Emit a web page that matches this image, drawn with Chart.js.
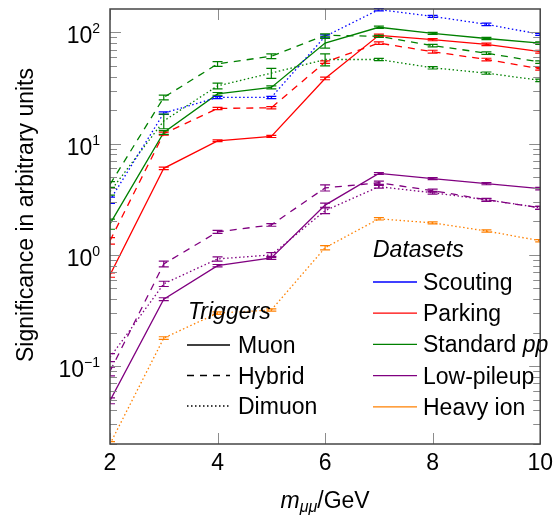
<!DOCTYPE html>
<html>
<head>
<meta charset="utf-8">
<script src="https://cdn.jsdelivr.net/npm/chart.js@4.4.1/dist/chart.umd.min.js"></script>
<style>
  html, body { margin: 0; padding: 0; background: #fff; }
  #wrap { width: 559px; height: 515px; }
</style>
</head>
<body>
<div id="wrap"><canvas id="chart" width="559" height="515"></canvas></div>
<script>
// dimuon mass points (GeV)
const masses = [2, 3, 4, 5, 6, 7, 8, 9, 10];

// significance
const scoutingDimuon = [3.1, 18.8, 26, 26, 92, 160, 139, 118, 96];
const parkingMuon = [0.66, 6.0, 10.6, 11.6, 38.5, 94, 86, 78, 67];
const parkingHybrid = [1.34, 12.3, 20.7, 21, 54, 80, 67, 57, 47];
const standardMuon = [1.9, 12.6, 28, 32, 80, 111, 98, 88, 80];
const standardHybrid = [4.3, 26, 52, 61, 94, 92, 76, 65, 54];
const standardDimuon = [3.7, 16, 33, 43, 57, 57, 48, 43, 37];
const lowpuMuon = [0.049, 0.40, 0.80, 0.94, 2.8, 5.4, 4.85, 4.37, 3.94];
const lowpuHybrid = [0.09, 0.83, 1.61, 1.86, 4.0, 4.45, 3.78, 3.13, 2.65];
const lowpuDimuon = [0.12, 0.55, 0.92, 1.0, 2.5, 4.1, 3.62, 3.13, 2.65];
const heavyIonDimuon = [0.02, 0.179, 0.30, 0.32, 1.16, 2.11, 1.94, 1.64, 1.34];

// error bar half heights
const scoutingDimuonErr = [0.2, 0.5, 0.6, 0.6, 3, 4, 3, 3, 2];
const parkingMuonErr = [0.03, 0.15, 0.2, 0.25, 1, 2.5, 2, 2, 2];
const parkingHybridErr = [0.09, 0.4, 0.5, 0.5, 1.5, 2, 2, 1.5, 1.2];
const standardMuonErr = [0.2, 0.5, 0.8, 1, 8, 2.5, 2, 2, 2];
const standardHybridErr = [0.25, 1.3, 2.6, 3, 3, 2, 2, 1.6, 1.5];
const standardDimuonErr = [0.25, 2.4, 2, 4.5, 7, 1.4, 1.2, 1, 1];
const lowpuMuonErr = [0.003, 0.012, 0.02, 0.03, 0.12, 0.1, 0.1, 0.1, 0.1];
const lowpuHybridErr = [0.008, 0.05, 0.05, 0.05, 0.25, 0.15, 0.12, 0.1, 0.08];
const lowpuDimuonErr = [0.01, 0.03, 0.04, 0.05, 0.15, 0.12, 0.1, 0.08, 0.08];
const heavyIonDimuonErr = [0.001, 0.005, 0.008, 0.008, 0.05, 0.05, 0.04, 0.04, 0.03];

// axis ticks
const xTicks = [2, 4, 6, 8, 10];
const yDecades = [-1, 0, 1, 2];

// legend texts
const triggerNames = ['Muon', 'Hybrid', 'Dimuon'];
const datasetNames = ['Scouting', 'Parking', 'Standard pp', 'Low-pileup', 'Heavy ion'];

const FONT = '"Liberation Sans", Arial, sans-serif';
const datasetColors = {
  'Scouting': 'rgb(0,0,255)',
  'Parking': 'rgb(255,0,0)',
  'Standard pp': 'rgb(0,128,0)',
  'Low-pileup': 'rgb(128,0,128)',
  'Heavy ion': 'rgb(255,128,0)'
};
const triggerDash = { Muon: [], Hybrid: [7, 6], Dimuon: [1.5, 2.5] };

const series = [
  { name: 'Scouting', trigger: 'Dimuon', values: scoutingDimuon, err: scoutingDimuonErr },
  { name: 'Parking', trigger: 'Muon', values: parkingMuon, err: parkingMuonErr },
  { name: 'Parking', trigger: 'Hybrid', values: parkingHybrid, err: parkingHybridErr },
  { name: 'Standard pp', trigger: 'Muon', values: standardMuon, err: standardMuonErr },
  { name: 'Standard pp', trigger: 'Hybrid', values: standardHybrid, err: standardHybridErr },
  { name: 'Standard pp', trigger: 'Dimuon', values: standardDimuon, err: standardDimuonErr },
  { name: 'Low-pileup', trigger: 'Muon', values: lowpuMuon, err: lowpuMuonErr },
  { name: 'Low-pileup', trigger: 'Hybrid', values: lowpuHybrid, err: lowpuHybridErr },
  { name: 'Low-pileup', trigger: 'Dimuon', values: lowpuDimuon, err: lowpuDimuonErr },
  { name: 'Heavy ion', trigger: 'Dimuon', values: heavyIonDimuon, err: heavyIonDimuonErr }
];

// error bars with small caps
const errorBars = {
  id: 'errorBars',
  afterDatasetsDraw(chart) {
    const { ctx, chartArea: a, scales: { y } } = chart;
    ctx.save();
    ctx.beginPath();
    ctx.rect(a.left, a.top - 1, a.right - a.left, a.bottom - a.top + 2);
    ctx.clip();
    chart.data.datasets.forEach((ds, i) => {
      const meta = chart.getDatasetMeta(i);
      ctx.strokeStyle = ds.borderColor;
      ctx.lineWidth = 1.2;
      ctx.setLineDash([]);
      meta.data.forEach((pt, j) => {
        const v = ds.data[j].y, e = ds.errors[j];
        const y1 = y.getPixelForValue(v + e);
        const y0 = y.getPixelForValue(Math.max(v - e, 1e-4));
        ctx.beginPath();
        ctx.moveTo(pt.x, y0); ctx.lineTo(pt.x, y1);
        ctx.moveTo(pt.x - 5, y0); ctx.lineTo(pt.x + 5, y0);
        ctx.moveTo(pt.x - 5, y1); ctx.lineTo(pt.x + 5, y1);
        ctx.stroke();
      });
    });
    ctx.restore();
  }
};

// frame, inner ticks, log labels, axis titles and the two legends
const decorations = {
  id: 'decorations',
  afterDraw(chart) {
    const { ctx, chartArea: a, scales: { x, y } } = chart;
    ctx.save();
    // ticks
    ctx.strokeStyle = 'rgb(140,140,140)';
    ctx.lineWidth = 1;
    ctx.beginPath();
    xTicks.forEach(v => {
      const px = Math.round(x.getPixelForValue(v)) + 0.5;
      ctx.moveTo(px, a.bottom); ctx.lineTo(px, a.bottom - 11);
      ctx.moveTo(px, a.top); ctx.lineTo(px, a.top + 11);
    });
    for (let d = -2; d <= 2; d++) {
      for (let k = 1; k <= 9; k++) {
        const v = k * Math.pow(10, d);
        if (v < y.min || v > y.max) continue;
        const py = Math.round(y.getPixelForValue(v)) + 0.5;
        const len = k === 1 ? 11 : 7;
        ctx.moveTo(a.left, py); ctx.lineTo(a.left + len, py);
        ctx.moveTo(a.right, py); ctx.lineTo(a.right - len, py);
      }
    }
    ctx.stroke();
    // frame
    ctx.strokeStyle = 'rgb(70,70,70)';
    ctx.lineWidth = 1.5;
    ctx.strokeRect(a.left, a.top, a.right - a.left, a.bottom - a.top);

    ctx.fillStyle = '#000';
    // y labels 10^n
    yDecades.forEach(d => {
      const py = y.getPixelForValue(Math.pow(10, d));
      const exp = d < 0 ? '\u2212' + (-d) : String(d);
      ctx.font = '14px ' + FONT;
      const we = ctx.measureText(exp).width;
      ctx.font = '23px ' + FONT;
      const wm = ctx.measureText('10').width;
      const xr = a.left - 10;
      ctx.textBaseline = 'alphabetic';
      ctx.textAlign = 'left';
      ctx.fillText('10', xr - we - wm, py + 11);
      ctx.font = '14px ' + FONT;
      ctx.fillText(exp, xr - we, py + 1);
    });

    // y title
    ctx.save();
    ctx.translate(33, 215);
    ctx.rotate(-Math.PI / 2);
    ctx.font = '23px ' + FONT;
    ctx.textAlign = 'center';
    ctx.fillText('Significance in arbitrary units', 0, 0);
    ctx.restore();

    // x title  m_{mu mu}/GeV
    const parts = [
      { t: 'm', f: 'italic 23px ' + FONT, dy: 0 },
      { t: '\u03bc\u03bc', f: 'italic 16px ' + FONT, dy: 4 },
      { t: '/GeV', f: '23px ' + FONT, dy: 0 }
    ];
    let total = 0;
    parts.forEach(p => { ctx.font = p.f; p.w = ctx.measureText(p.t).width; total += p.w; });
    let cx = (a.left + a.right) / 2 - total / 2;
    parts.forEach(p => { ctx.font = p.f; ctx.fillText(p.t, cx, 508 + p.dy); cx += p.w; });

    // Triggers legend
    ctx.font = 'italic 23px ' + FONT;
    ctx.fillText('Triggers', 188, 319);
    triggerNames.forEach((n, i) => {
      const ly = 345 + i * 30.5;
      ctx.strokeStyle = '#000';
      ctx.lineWidth = 1.3;
      ctx.setLineDash(triggerDash[n]);
      ctx.beginPath(); ctx.moveTo(187, ly); ctx.lineTo(230, ly); ctx.stroke();
      ctx.setLineDash([]);
      ctx.font = '23px ' + FONT;
      ctx.fillText(n, 238, ly + 8);
    });

    // Datasets legend
    ctx.font = 'italic 23px ' + FONT;
    ctx.fillText('Datasets', 373, 257);
    datasetNames.forEach((n, i) => {
      const ly = 282 + i * 31.2;
      ctx.strokeStyle = datasetColors[n];
      ctx.lineWidth = 1.3;
      ctx.beginPath(); ctx.moveTo(373, ly); ctx.lineTo(417, ly); ctx.stroke();
      ctx.font = '23px ' + FONT;
      if (n === 'Standard pp') {
        ctx.fillText('Standard ', 423, ly + 8);
        const w = ctx.measureText('Standard ').width;
        ctx.font = 'italic 23px ' + FONT;
        ctx.fillText('pp', 423 + w, ly + 8);
      } else {
        ctx.fillText(n, 423, ly + 8);
      }
    });
    ctx.restore();
  }
};

new Chart(document.getElementById('chart'), {
  type: 'line',
  data: {
    datasets: series.map(s => ({
      label: s.name + ' ' + s.trigger,
      data: masses.map((m, i) => ({ x: m, y: s.values[i] })),
      errors: s.err,
      borderColor: datasetColors[s.name],
      borderDash: triggerDash[s.trigger],
      borderWidth: 1.3,
      pointRadius: 0,
      tension: 0,
      fill: false
    }))
  },
  options: {
    responsive: false,
    animation: false,
    devicePixelRatio: 1,
    layout: { padding: { top: 9, right: 13, left: 0, bottom: 0 } },
    plugins: { legend: { display: false }, tooltip: { enabled: false } },
    scales: {
      x: {
        type: 'linear',
        min: 2,
        max: 10,
        afterBuildTicks: s => { s.ticks = xTicks.map(v => ({ value: v })); },
        ticks: { color: '#000', font: { family: FONT, size: 23 }, padding: 6, maxRotation: 0 },
        grid: { display: false, drawTicks: false },
        border: { display: false },
        afterFit: s => { s.height = 71; }
      },
      y: {
        type: 'logarithmic',
        min: 0.02,
        max: 162,
        ticks: { display: false },
        grid: { display: false, drawTicks: false },
        border: { display: false },
        afterFit: s => { s.width = 110; }
      }
    }
  },
  plugins: [errorBars, decorations]
});
</script>
</body>
</html>
